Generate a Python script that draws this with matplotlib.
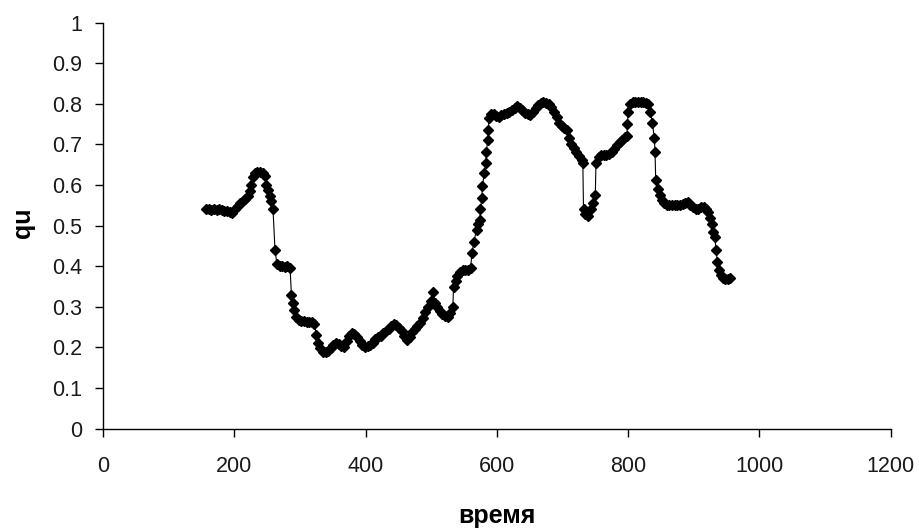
import matplotlib
matplotlib.use("Agg")
import matplotlib.pyplot as plt

# Time axis (x) and qu values (y) for the measured series
time = [157, 161, 165, 169, 173, 177, 181, 185, 189, 193, 197, 201, 205, 209, 213,
        217, 221, 224, 226, 228, 231, 235, 239, 243, 247, 249, 251, 254, 256, 259,
        262, 265, 269, 273, 277, 281, 285, 287, 289, 291, 294, 298, 302, 306, 310,
        314, 318, 322, 325, 328, 331, 335, 339, 343, 347, 351, 355, 359, 363, 367,
        371, 375, 379, 383, 387, 391, 395, 399, 403, 407, 411, 415, 419, 423, 427,
        431, 435, 439, 443, 447, 451, 455, 459, 463, 467, 471, 475, 479, 483, 487,
        491, 495, 499, 503, 506, 509, 513, 517, 521, 525, 529, 533, 534, 537, 540,
        544, 548, 552, 556, 560, 562, 565, 569, 572, 574, 575, 577, 578, 581, 583,
        584, 586, 587, 588, 591, 595, 599, 603, 607, 611, 615, 619, 623, 627, 631,
        635, 639, 643, 647, 651, 655, 659, 663, 667, 671, 675, 679, 683, 687, 691,
        695, 699, 703, 707, 710, 713, 717, 721, 725, 729, 731, 732, 735, 739, 743,
        747, 750, 751, 755, 759, 763, 767, 771, 775, 779, 783, 787, 791, 795, 798,
        799, 800, 803, 807, 811, 815, 819, 823, 827, 831, 834, 837, 840, 841, 842,
        845, 848, 851, 855, 859, 863, 867, 871, 875, 879, 883, 887, 891, 895, 899,
        903, 907, 911, 915, 919, 922, 925, 928, 930, 932, 934, 936, 938, 941, 944,
        948, 952, 955]

qu = [0.540, 0.540, 0.538, 0.540, 0.538, 0.540, 0.538, 0.537, 0.536, 0.534, 0.532, 0.540, 0.548, 0.555, 0.560,
      0.565, 0.572, 0.585, 0.600, 0.620, 0.630, 0.632, 0.633, 0.630, 0.622, 0.600, 0.588, 0.572, 0.560, 0.540,
      0.440, 0.405, 0.400, 0.400, 0.398, 0.400, 0.395, 0.330, 0.310, 0.292, 0.275, 0.268, 0.265, 0.265, 0.262,
      0.262, 0.262, 0.258, 0.230, 0.210, 0.198, 0.190, 0.190, 0.192, 0.198, 0.205, 0.212, 0.208, 0.203, 0.202,
      0.215, 0.228, 0.235, 0.232, 0.225, 0.215, 0.207, 0.202, 0.203, 0.206, 0.212, 0.220, 0.225, 0.228, 0.235,
      0.240, 0.245, 0.252, 0.258, 0.255, 0.248, 0.240, 0.228, 0.218, 0.225, 0.238, 0.245, 0.252, 0.260, 0.272,
      0.288, 0.300, 0.315, 0.337, 0.310, 0.300, 0.290, 0.282, 0.278, 0.275, 0.285, 0.300, 0.350, 0.365, 0.375,
      0.385, 0.390, 0.390, 0.392, 0.395, 0.432, 0.460, 0.490, 0.505, 0.515, 0.540, 0.567, 0.598, 0.630, 0.655,
      0.682, 0.710, 0.735, 0.765, 0.775, 0.775, 0.770, 0.768, 0.772, 0.775, 0.778, 0.780, 0.785, 0.790, 0.795,
      0.790, 0.785, 0.778, 0.775, 0.772, 0.780, 0.790, 0.798, 0.803, 0.805, 0.803, 0.800, 0.793, 0.780, 0.768,
      0.752, 0.745, 0.740, 0.736, 0.715, 0.700, 0.692, 0.682, 0.672, 0.663, 0.655, 0.540, 0.528, 0.524, 0.540,
      0.555, 0.575, 0.655, 0.668, 0.674, 0.675, 0.674, 0.676, 0.682, 0.690, 0.698, 0.705, 0.712, 0.718, 0.722,
      0.750, 0.780, 0.800, 0.805, 0.805, 0.805, 0.805, 0.805, 0.803, 0.800, 0.780, 0.752, 0.715, 0.682, 0.612,
      0.590, 0.575, 0.563, 0.556, 0.552, 0.551, 0.551, 0.551, 0.551, 0.551, 0.553, 0.557, 0.558, 0.552, 0.545,
      0.540, 0.542, 0.545, 0.547, 0.542, 0.533, 0.520, 0.505, 0.485, 0.473, 0.440, 0.410, 0.392, 0.378, 0.370,
      0.368, 0.368, 0.370]

x_ticks = [0, 200, 400, 600, 800, 1000, 1200]
y_ticks = [0, 0.1, 0.2, 0.3, 0.4, 0.5, 0.6, 0.7, 0.8, 0.9, 1]
y_labels = ["0", "0.1", "0.2", "0.3", "0.4", "0.5", "0.6", "0.7", "0.8", "0.9", "1"]

tick_font = ["Liberation Sans", "DejaVu Sans"]
label_font = ["Liberation Sans", "DejaVu Sans"]

fig = plt.figure(figsize=(9.19, 5.28), dpi=100)
ax = fig.add_axes([0.1121, 0.1881, 0.8571, 0.7689])

ax.plot(time, qu, color="black", linewidth=0.8, marker="D", markersize=4.8,
        markerfacecolor="black", markeredgecolor="black", clip_on=False)

ax.set_xlim(0, 1200)
ax.set_ylim(0, 1)
ax.set_xticks(x_ticks)
ax.set_yticks(y_ticks)
ax.set_yticklabels(y_labels)

for side in ("top", "right"):
    ax.spines[side].set_visible(False)
for side in ("left", "bottom"):
    ax.spines[side].set_linewidth(1.0)
    ax.spines[side].set_color("black")

ax.tick_params(axis="both", direction="out", length=6, width=1.0, colors="black")
ax.tick_params(axis="x", pad=14)
ax.tick_params(axis="y", pad=9)
for lab in ax.get_xticklabels() + ax.get_yticklabels():
    lab.set_family(tick_font)
    lab.set_fontsize(15.5)
    lab.set_color("#1a1a1a")

fig.text(497 / 919, 1 - 516 / 528, "время", ha="center", va="center",
         family=label_font, fontweight="bold", fontsize=18)
fig.text(23 / 919, 1 - 223 / 528, "qu", ha="center", va="center", rotation=90,
         family=label_font, fontweight="bold", fontsize=18)

fig.savefig("out.png", dpi=100, facecolor="white")
